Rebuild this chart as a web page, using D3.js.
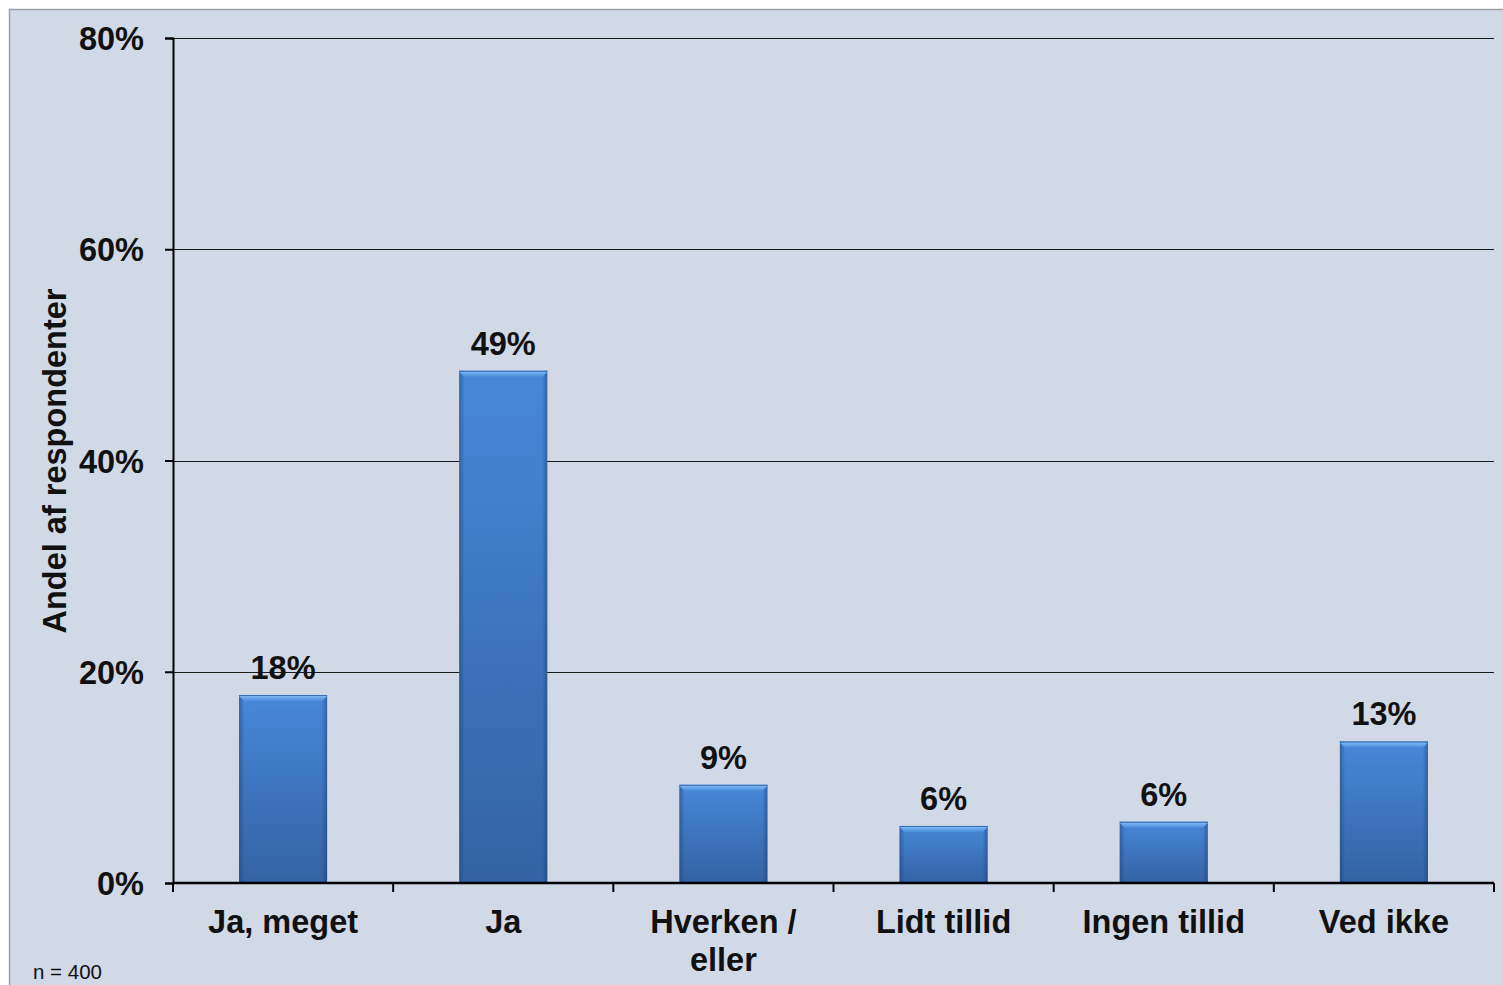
<!DOCTYPE html>
<html>
<head>
<meta charset="utf-8">
<script src="https://cdn.jsdelivr.net/npm/d3@7"></script>
<style>
  html, body { margin: 0; padding: 0; background: #ffffff; }
  svg { display: block; }
  text { font-family: "Liberation Sans", Arial, sans-serif; }
</style>
</head>
<body>
<svg id="chart" width="1503" height="985"></svg>
<script>
const categories = ["Ja, meget", "Ja", "Hverken / eller", "Lidt tillid", "Ingen tillid", "Ved ikke"];
const categoryLines = [["Ja, meget"], ["Ja"], ["Hverken /", "eller"], ["Lidt tillid"], ["Ingen tillid"], ["Ved ikke"]];
const values = [0.178, 0.485, 0.093, 0.054, 0.058, 0.134];
const valueLabels = ["18%", "49%", "9%", "6%", "6%", "13%"];
const yTicks = [0, 0.2, 0.4, 0.6, 0.8];
const yTitle = "Andel af respondenter";
const note = "n = 400";

const svg = d3.select("#chart");
const W = 1503, H = 985;
const mLeft = 173, mRight = 1494, mTop = 38, mBottom = 883;
const FS = 32.5;

// frame
svg.append("rect").attr("x", 9.5).attr("y", 9.5).attr("width", W).attr("height", H)
  .attr("fill", "#d1d9e7").attr("stroke", "#9a9fa8").attr("stroke-width", 1.5);

const x = d3.scaleBand().domain(categories).range([mLeft, mRight]).padding(0);
const y = d3.scaleLinear().domain([0, 0.8]).range([mBottom, mTop]);

const defs = svg.append("defs");
const g1 = defs.append("linearGradient").attr("id", "barV").attr("x1", 0).attr("y1", 0).attr("x2", 0).attr("y2", 1);
g1.append("stop").attr("offset", "0%").attr("stop-color", "#4688d8");
g1.append("stop").attr("offset", "100%").attr("stop-color", "#3462a4");
const g2 = defs.append("linearGradient").attr("id", "barH").attr("x1", 0).attr("y1", 0).attr("x2", 1).attr("y2", 0);
g2.append("stop").attr("offset", "0%").attr("stop-color", "#1d3d70").attr("stop-opacity", 0.5);
g2.append("stop").attr("offset", "6%").attr("stop-color", "#1d3d70").attr("stop-opacity", 0);
g2.append("stop").attr("offset", "94%").attr("stop-color", "#1d3d70").attr("stop-opacity", 0);
g2.append("stop").attr("offset", "100%").attr("stop-color", "#1d3d70").attr("stop-opacity", 0.5);
const g3 = defs.append("linearGradient").attr("id", "barTop").attr("x1", 0).attr("y1", 0).attr("x2", 0).attr("y2", 1);
g3.append("stop").attr("offset", "0%").attr("stop-color", "#7fb6f2");
g3.append("stop").attr("offset", "100%").attr("stop-color", "#4a8ddc");

// gridlines
svg.append("g").selectAll("line").data(yTicks.filter(d => d > 0)).join("line")
  .attr("x1", mLeft).attr("x2", mRight)
  .attr("y1", d => Math.round(y(d)) + 0.5).attr("y2", d => Math.round(y(d)) + 0.5)
  .attr("stroke", "#1a1a1a").attr("stroke-width", 1.2);

// bars
const bw = x.bandwidth() * 0.4;
const bars = svg.append("g").selectAll("g").data(categories).join("g");
bars.append("rect")
  .attr("x", d => x(d) + x.bandwidth() * 0.3)
  .attr("y", (d, i) => y(values[i]))
  .attr("width", bw)
  .attr("height", (d, i) => mBottom - y(values[i]))
  .attr("fill", "url(#barV)");
bars.append("rect")
  .attr("x", d => x(d) + x.bandwidth() * 0.3)
  .attr("y", (d, i) => y(values[i]))
  .attr("width", bw)
  .attr("height", (d, i) => mBottom - y(values[i]))
  .attr("fill", "url(#barH)");
bars.append("path")
  .attr("d", (d, i) => {
    const x0 = x(d) + x.bandwidth() * 0.3, yt = y(values[i]);
    return `M${x0},${yt + 1}L${x0 + bw},${yt + 1}L${x0 + bw - 5},${yt + 6}L${x0 + 5},${yt + 6}Z`;
  })
  .attr("fill", "url(#barTop)");
bars.append("line")
  .attr("x1", d => x(d) + x.bandwidth() * 0.3).attr("x2", d => x(d) + x.bandwidth() * 0.3 + bw)
  .attr("y1", (d, i) => y(values[i]) + 0.5).attr("y2", (d, i) => y(values[i]) + 0.5)
  .attr("stroke", "#3a6fb5").attr("stroke-width", 1);

// value labels
svg.append("g").selectAll("text").data(categories).join("text")
  .attr("x", d => x(d) + x.bandwidth() / 2)
  .attr("y", (d, i) => y(values[i]) - 16)
  .attr("text-anchor", "middle")
  .attr("font-size", FS).attr("font-weight", "bold").attr("fill", "#111")
  .text((d, i) => valueLabels[i]);

// y axis
const yAxis = svg.append("g").attr("transform", `translate(${mLeft},0)`)
  .call(d3.axisLeft(y).tickValues(yTicks).tickFormat(d3.format(".0%")).tickSize(8).tickPadding(21));
yAxis.select(".domain").attr("stroke", "#000").attr("stroke-width", 2);
yAxis.selectAll(".tick line").attr("stroke", "#000").attr("stroke-width", 2);
yAxis.selectAll(".tick text").attr("font-size", FS).attr("font-weight", "bold").attr("fill", "#111")
  .attr("font-family", "Liberation Sans, Arial, sans-serif").attr("dy", "0.36em");

// x axis
const xAxisG = svg.append("g").attr("transform", `translate(0,${mBottom})`);
xAxisG.append("line").attr("x1", mLeft).attr("x2", mRight).attr("y1", 0).attr("y2", 0)
  .attr("stroke", "#000").attr("stroke-width", 2.5);
const bounds = categories.map(d => x(d)).concat([x(categories[categories.length - 1]) + x.bandwidth()]);
xAxisG.selectAll("line.tk").data(bounds).join("line").attr("class", "tk")
  .attr("x1", d => d).attr("x2", d => d).attr("y1", 0).attr("y2", 9)
  .attr("stroke", "#000").attr("stroke-width", 2);

const catText = svg.append("g").selectAll("text").data(categories).join("text")
  .attr("x", d => x(d) + x.bandwidth() / 2)
  .attr("y", 933)
  .attr("text-anchor", "middle")
  .attr("font-size", FS).attr("font-weight", "bold").attr("fill", "#111");
catText.selectAll("tspan").data((d, i) => categoryLines[i]).join("tspan")
  .attr("x", function() { return d3.select(this.parentNode).attr("x"); })
  .attr("dy", (d, i) => i === 0 ? 0 : 38)
  .text(d => d);

// y title
svg.append("text")
  .attr("transform", `translate(66,461) rotate(-90)`)
  .attr("text-anchor", "middle")
  .attr("font-size", FS).attr("font-weight", "bold").attr("fill", "#111")
  .text(yTitle);

// note
svg.append("text").attr("x", 33).attr("y", 979)
  .attr("font-size", 20.5).attr("fill", "#111").text(note);
</script>
</body>
</html>
